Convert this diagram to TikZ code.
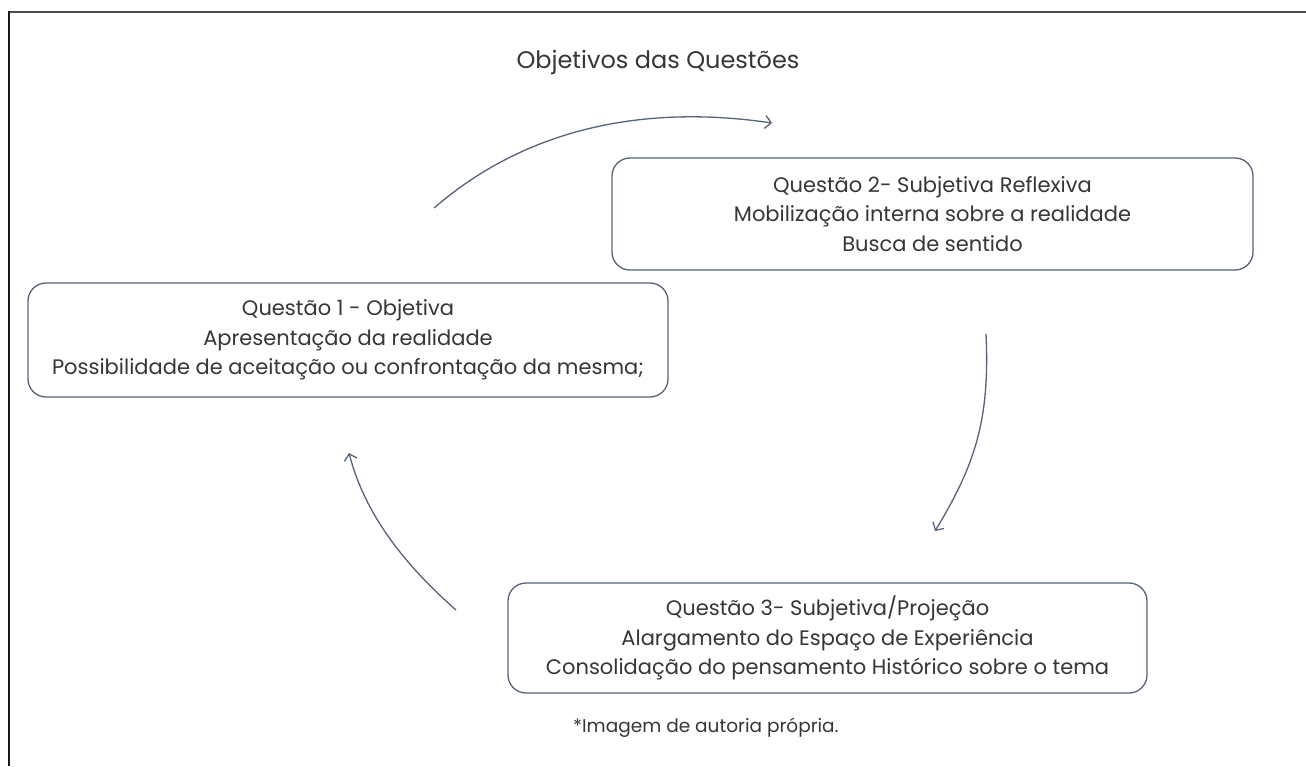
\documentclass[tikz,border=0pt]{standalone}
\usepackage{fontspec}
\setmainfont{Poppins}
\usetikzlibrary{arrows.meta}
\definecolor{edge}{HTML}{56627A}
\definecolor{txt}{HTML}{363636}
\tikzset{
  x=1pt,y=-1pt,
  qbox/.style={draw=edge,line width=1.3pt,rounded corners=18pt,fill=white,inner sep=0pt,
    align=center,text=txt,font=\fontsize{21}{29.5}\selectfont},
  flow/.style={draw=edge,line width=1.3pt,-{Straight Barb[length=6pt,width=13pt,line width=1.3pt]}},
  label/.style={text=txt,inner sep=0pt}
}
\begin{document}
\begin{tikzpicture}
\useasboundingbox (0,0) rectangle (1306,766);
\draw[line width=2pt,color=black!70] (9,12) -- (1306,12);
\draw[line width=2pt,color=black!90] (9,11) -- (9,766);
\node[label,font=\fontsize{24}{28}\selectfont] (title) at (658,62) {Objetivos das Questões};
\node[qbox,minimum width=641pt,minimum height=112pt] (q2) at (932.5,214) {Questão 2- Subjetiva Reflexiva\\Mobilização interna sobre a realidade\\Busca de sentido};
\node[qbox,minimum width=640pt,minimum height=114pt] (q1) at (348,340) {Questão 1 - Objetiva\\Apresentação da realidade\\Possibilidade de aceitação ou confrontação da mesma;};
\node[qbox,minimum width=639pt,minimum height=110pt] (q3) at (827.5,638) {Questão 3- Subjetiva/Projeção\\Alargamento do Espaço de Experiência\\Consolidação do pensamento Histórico sobre o tema};
\node[label,font=\fontsize{18.5}{22}\selectfont,anchor=west] (note) at (573,728) {*Imagem de autoria própria.};
\coordinate (a1s) at (434,208);
\coordinate (a1e) at (772,123);
\coordinate (a2s) at (986,334);
\coordinate (a2e) at (935,531);
\coordinate (a3s) at (456,610);
\coordinate (a3e) at (349,453);
\draw[flow] (a1s) .. controls (530,125) and (650,105) .. (a1e);
\draw[flow] (a2s) .. controls (990,420) and (975,465) .. (a2e);
\draw[flow] (a3s) .. controls (405,565) and (365,515) .. (a3e);
\end{tikzpicture}
\end{document}
